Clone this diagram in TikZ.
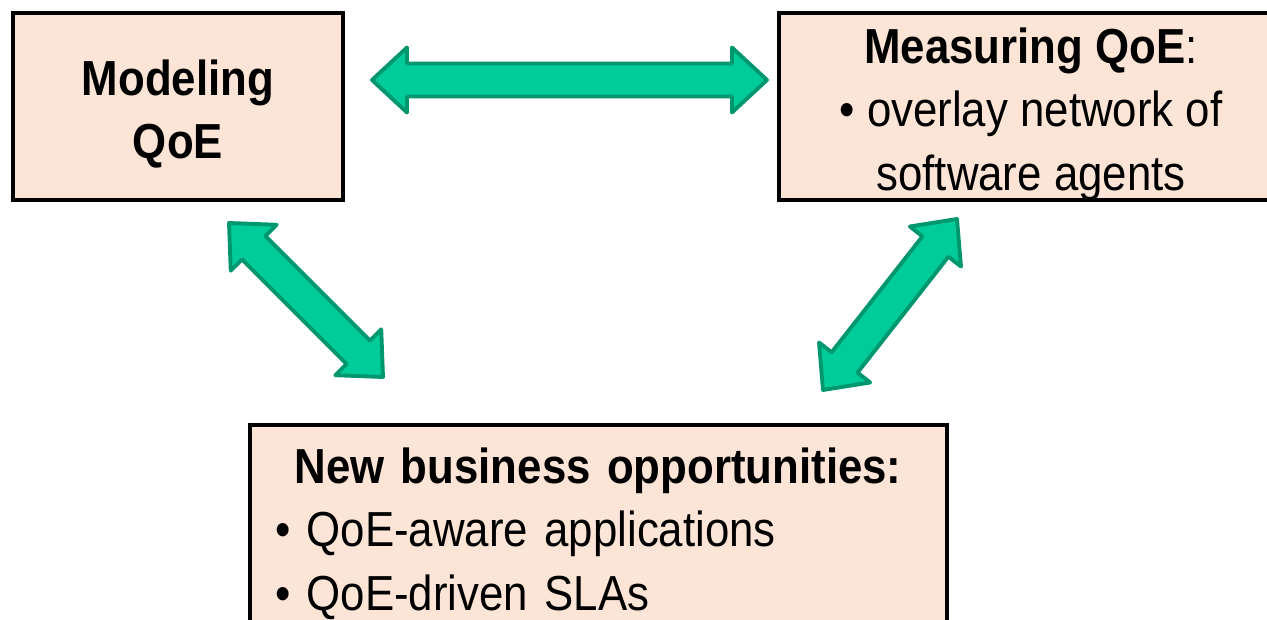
\documentclass[tikz,border=0pt]{standalone}
\usepackage{fontspec}
\setmainfont{Liberation Sans}[FakeStretch=0.89]
\usepackage{tikz}
\usetikzlibrary{calc}

\definecolor{peach}{RGB}{252,228,214}
\definecolor{arrowgreen}{RGB}{0,204,153}
\definecolor{arrowedge}{RGB}{0,150,110}

\tikzset{
  qoebox/.style={draw=black, line width=2.2pt, fill=peach, inner sep=0pt},
  boxtext/.style={inner sep=0pt, anchor=north, align=center, font=\fontsize{28}{36.4}\selectfont},
  fatarrow/.style={draw=arrowedge, fill=arrowgreen, line width=2.2pt, line join=round}
}

% block arrow with two heads, from #1 to #2
\newcommand{\hl}{0.7cm}
\newcommand{\hw}{0.65cm}
\newcommand{\sw}{0.33cm}
\newcommand{\fatarrow}[2]{%
  \draw[fatarrow] (#1)
    -- ($(#1)!\hl!(#2)!\hw!90:(#2)$) -- ($(#1)!\hl!(#2)!\sw!90:(#2)$)
    -- ($(#2)!\hl!(#1)!\sw!-90:(#1)$) -- ($(#2)!\hl!(#1)!\hw!-90:(#1)$)
    -- (#2)
    -- ($(#2)!\hl!(#1)!\hw!90:(#1)$) -- ($(#2)!\hl!(#1)!\sw!90:(#1)$)
    -- ($(#1)!\hl!(#2)!\sw!-90:(#2)$) -- ($(#1)!\hl!(#2)!\hw!-90:(#2)$)
    -- cycle;}

\begin{document}
\begin{tikzpicture}
    \useasboundingbox (0,0) rectangle (25.34,12.38);
    \clip (0,0) rectangle (25.34,12.38);

    % boxes
    \node[qoebox, minimum width=6.6cm, minimum height=3.74cm] (model) at (3.56,10.25) {};
    \node[qoebox, minimum width=10.04cm, minimum height=3.74cm] (measure) at (20.6,10.25) {};
    \node[qoebox, minimum width=13.94cm, minimum height=4.7cm] (opps) at (11.97,1.53) {};

    \node[boxtext] (modeltxt) at (3.56,11.2) {\textbf{Modeling}\\\textbf{QoE}};
    \node[boxtext] (measuretxt) at (20.62,11.84)
        {\textbf{Measuring QoE}:\\• overlay network of\\software agents};
    \node[boxtext, align=left, text width=12.92cm] (oppstxt) at (11.96,3.44)
        {{\centering\textbf{New business opportunities:}\par}• QoE-aware applications\\• QoE-driven SLAs};

    % arrows
    \coordinate (h1) at (7.44,10.78);
    \coordinate (h2) at (15.34,10.78);
    \coordinate (l1) at (4.58,7.92);
    \coordinate (l2) at (7.66,4.84);
    \coordinate (r1) at (19.14,8.0);
    \coordinate (r2) at (16.46,4.58);
    \fatarrow{h1}{h2}
    \fatarrow{l1}{l2}
    \fatarrow{r1}{r2}
\end{tikzpicture}
\end{document}
